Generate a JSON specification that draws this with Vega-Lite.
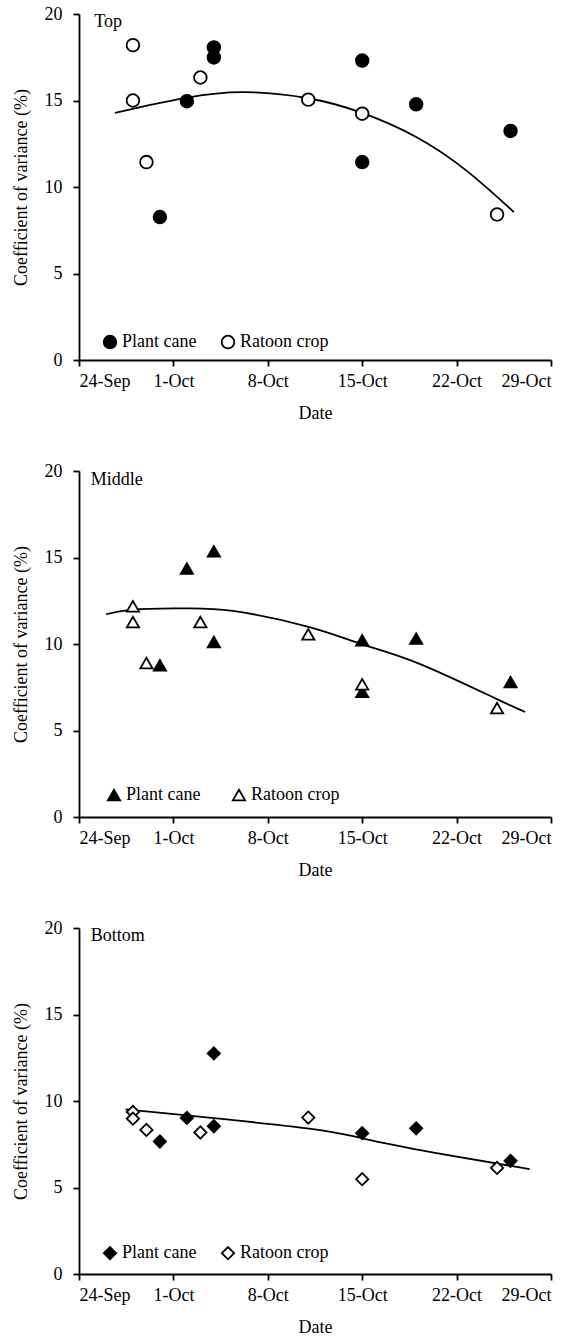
{
  "$schema": "https://vega.github.io/schema/vega-lite/v6.json",
  "padding": {"left": 12, "top": 5, "right": 5, "bottom": 5},
  "spacing": 40,
  "config": {
    "view": {"stroke": null},
    "font": "Liberation Serif",
    "axis": {
      "grid": false,
      "domainColor": "black",
      "domainWidth": 1.8,
      "tickColor": "black",
      "tickWidth": 1.8,
      "tickSize": 6,
      "labelFont": "Liberation Serif",
      "labelFontSize": 18,
      "labelColor": "black",
      "titleFont": "Liberation Serif",
      "titleFontSize": 18,
      "titleFontWeight": "normal",
      "titleColor": "black"
    },
    "axisX": {"labelPadding": 6, "titlePadding": 14},
    "axisY": {"labelPadding": 11, "titlePadding": 14},
    "legend": {
      "orient": "none",
      "direction": "horizontal",
      "title": null,
      "labelFont": "Liberation Serif",
      "labelFontSize": 18,
      "labelColor": "black",
      "labelOffset": 3,
      "padding": 0,
      "symbolStrokeColor": "black",
      "symbolStrokeWidth": 1.8,
      "symbolOpacity": 1
    },
    "text": {"font": "Liberation Serif", "fontSize": 18, "color": "black", "align": "left", "baseline": "alphabetic"}
  },
  "datasets": {
    "top_pts": [
      {"date": "2012-09-30T00:00:00", "cv": 8.26, "crop": "Plant cane"},
      {"date": "2012-10-02T00:00:00", "cv": 14.96, "crop": "Plant cane"},
      {"date": "2012-10-04T00:00:00", "cv": 18.07, "crop": "Plant cane"},
      {"date": "2012-10-04T00:00:00", "cv": 17.49, "crop": "Plant cane"},
      {"date": "2012-10-15T00:00:00", "cv": 17.31, "crop": "Plant cane"},
      {"date": "2012-10-15T00:00:00", "cv": 11.44, "crop": "Plant cane"},
      {"date": "2012-10-19T00:00:00", "cv": 14.78, "crop": "Plant cane"},
      {"date": "2012-10-26T00:00:00", "cv": 13.24, "crop": "Plant cane"},
      {"date": "2012-09-28T00:00:00", "cv": 18.2, "crop": "Ratoon crop"},
      {"date": "2012-09-28T00:00:00", "cv": 15.0, "crop": "Ratoon crop"},
      {"date": "2012-09-29T00:00:00", "cv": 11.44, "crop": "Ratoon crop"},
      {"date": "2012-10-03T00:00:00", "cv": 16.33, "crop": "Ratoon crop"},
      {"date": "2012-10-11T00:00:00", "cv": 15.05, "crop": "Ratoon crop"},
      {"date": "2012-10-15T00:00:00", "cv": 14.24, "crop": "Ratoon crop"},
      {"date": "2012-10-25T00:00:00", "cv": 8.41, "crop": "Ratoon crop"}
    ],
    "top_fit": [
      {"date": "2012-09-26T16:00:00", "cv": 14.28},
      {"date": "2012-09-29T05:00:00", "cv": 14.73},
      {"date": "2012-10-02T01:00:00", "cv": 15.17},
      {"date": "2012-10-06T02:00:00", "cv": 15.48},
      {"date": "2012-10-11T00:00:00", "cv": 15.13},
      {"date": "2012-10-15T00:00:00", "cv": 14.28},
      {"date": "2012-10-19T00:00:00", "cv": 12.89},
      {"date": "2012-10-22T17:00:00", "cv": 10.96},
      {"date": "2012-10-26T06:00:00", "cv": 8.55}
    ],
    "mid_pts": [
      {"date": "2012-09-30T00:00:00", "cv": 8.77, "crop": "Plant cane"},
      {"date": "2012-10-02T00:00:00", "cv": 14.36, "crop": "Plant cane"},
      {"date": "2012-10-04T00:00:00", "cv": 15.36, "crop": "Plant cane"},
      {"date": "2012-10-04T00:00:00", "cv": 10.12, "crop": "Plant cane"},
      {"date": "2012-10-15T00:00:00", "cv": 10.21, "crop": "Plant cane"},
      {"date": "2012-10-15T00:00:00", "cv": 7.23, "crop": "Plant cane"},
      {"date": "2012-10-19T00:00:00", "cv": 10.31, "crop": "Plant cane"},
      {"date": "2012-10-26T00:00:00", "cv": 7.8, "crop": "Plant cane"},
      {"date": "2012-09-28T00:00:00", "cv": 12.18, "crop": "Ratoon crop"},
      {"date": "2012-09-28T00:00:00", "cv": 11.27, "crop": "Ratoon crop"},
      {"date": "2012-09-29T00:00:00", "cv": 8.9, "crop": "Ratoon crop"},
      {"date": "2012-10-03T00:00:00", "cv": 11.27, "crop": "Ratoon crop"},
      {"date": "2012-10-11T00:00:00", "cv": 10.56, "crop": "Ratoon crop"},
      {"date": "2012-10-15T00:00:00", "cv": 7.67, "crop": "Ratoon crop"},
      {"date": "2012-10-25T00:00:00", "cv": 6.3, "crop": "Ratoon crop"}
    ],
    "mid_fit": [
      {"date": "2012-09-26T00:00:00", "cv": 11.72},
      {"date": "2012-09-28T00:00:00", "cv": 11.99},
      {"date": "2012-10-01T17:00:00", "cv": 12.06},
      {"date": "2012-10-05T10:00:00", "cv": 11.91},
      {"date": "2012-10-11T02:00:00", "cv": 10.98},
      {"date": "2012-10-15T00:00:00", "cv": 9.98},
      {"date": "2012-10-19T05:00:00", "cv": 8.87},
      {"date": "2012-10-24T22:00:00", "cv": 6.84},
      {"date": "2012-10-27T02:00:00", "cv": 6.07}
    ],
    "bot_pts": [
      {"date": "2012-09-30T00:00:00", "cv": 7.66, "crop": "Plant cane"},
      {"date": "2012-10-02T00:00:00", "cv": 9.02, "crop": "Plant cane"},
      {"date": "2012-10-04T00:00:00", "cv": 12.75, "crop": "Plant cane"},
      {"date": "2012-10-04T00:00:00", "cv": 8.54, "crop": "Plant cane"},
      {"date": "2012-10-15T00:00:00", "cv": 8.14, "crop": "Plant cane"},
      {"date": "2012-10-19T00:00:00", "cv": 8.42, "crop": "Plant cane"},
      {"date": "2012-10-26T00:00:00", "cv": 6.54, "crop": "Plant cane"},
      {"date": "2012-09-28T00:00:00", "cv": 9.37, "crop": "Ratoon crop"},
      {"date": "2012-09-28T00:00:00", "cv": 8.98, "crop": "Ratoon crop"},
      {"date": "2012-09-29T00:00:00", "cv": 8.33, "crop": "Ratoon crop"},
      {"date": "2012-10-03T00:00:00", "cv": 8.18, "crop": "Ratoon crop"},
      {"date": "2012-10-11T00:00:00", "cv": 9.04, "crop": "Ratoon crop"},
      {"date": "2012-10-15T00:00:00", "cv": 5.48, "crop": "Ratoon crop"},
      {"date": "2012-10-25T00:00:00", "cv": 6.13, "crop": "Ratoon crop"}
    ],
    "bot_fit": [
      {"date": "2012-09-27T11:00:00", "cv": 9.52},
      {"date": "2012-10-02T00:00:00", "cv": 9.17},
      {"date": "2012-10-10T22:00:00", "cv": 8.42},
      {"date": "2012-10-15T02:00:00", "cv": 7.83},
      {"date": "2012-10-20T07:00:00", "cv": 7.02},
      {"date": "2012-10-27T10:00:00", "cv": 6.06}
    ]
  },
  "resolve": {"scale": {"fill": "independent", "x": "independent", "y": "independent"}, "legend": {"fill": "independent"}},
  "vconcat": [
    {
      "width": 472, "height": 346,
      "layer": [
        {
          "data": {"name": "top_fit"},
          "mark": {"type": "line", "color": "black", "strokeWidth": 1.8, "interpolate": "natural"},
          "encoding": {
            "x": {"field": "date", "type": "temporal", "title": "Date", "scale": {"domain": [{"year": 2012, "month": 9, "date": 24}, {"year": 2012, "month": 10, "date": 29}]}, "axis": {"values": [{"year": 2012, "month": 9, "date": 24}, {"year": 2012, "month": 10, "date": 1}, {"year": 2012, "month": 10, "date": 8}, {"year": 2012, "month": 10, "date": 15}, {"year": 2012, "month": 10, "date": 22}, {"year": 2012, "month": 10, "date": 29}], "format": "%-d-%b"}},
            "y": {"field": "cv", "type": "quantitative", "title": "Coefficient of variance (%)", "scale": {"domain": [0, 20], "nice": false}, "axis": {"values": [0, 5, 10, 15, 20]}}
          }
        },
        {
          "data": {"name": "top_pts"},
          "mark": {"type": "point", "shape": "circle", "size": 160, "filled": true, "stroke": "black", "strokeWidth": 1.8, "opacity": 1},
          "encoding": {
            "x": {"field": "date", "type": "temporal"},
            "y": {"field": "cv", "type": "quantitative"},
            "fill": {"field": "crop", "type": "nominal", "scale": {"domain": ["Plant cane", "Ratoon crop"], "range": ["black", "white"]},
              "legend": {"legendX": 22, "legendY": 319, "symbolType": "circle", "symbolSize": 160, "columnPadding": 21}}
          }
        },
        {
          "data": {"values": [{"panel": "Top"}]},
          "mark": {"type": "text"},
          "encoding": {
            "x": {"datum": {"year": 2012, "month": 9, "date": 25, "hours": 3}},
            "y": {"datum": 19.22},
            "text": {"field": "panel"}
          }
        }
      ]
    },
    {
      "width": 472, "height": 346,
      "layer": [
        {
          "data": {"name": "mid_fit"},
          "mark": {"type": "line", "color": "black", "strokeWidth": 1.8, "interpolate": "natural"},
          "encoding": {
            "x": {"field": "date", "type": "temporal", "title": "Date", "scale": {"domain": [{"year": 2012, "month": 9, "date": 24}, {"year": 2012, "month": 10, "date": 29}]}, "axis": {"values": [{"year": 2012, "month": 9, "date": 24}, {"year": 2012, "month": 10, "date": 1}, {"year": 2012, "month": 10, "date": 8}, {"year": 2012, "month": 10, "date": 15}, {"year": 2012, "month": 10, "date": 22}, {"year": 2012, "month": 10, "date": 29}], "format": "%-d-%b"}},
            "y": {"field": "cv", "type": "quantitative", "title": "Coefficient of variance (%)", "scale": {"domain": [0, 20], "nice": false}, "axis": {"values": [0, 5, 10, 15, 20]}}
          }
        },
        {
          "data": {"name": "mid_pts"},
          "mark": {"type": "point", "shape": "triangle-up", "size": 150, "filled": true, "stroke": "black", "strokeWidth": 1.8, "opacity": 1},
          "encoding": {
            "x": {"field": "date", "type": "temporal"},
            "y": {"field": "cv", "type": "quantitative"},
            "fill": {"field": "crop", "type": "nominal", "scale": {"domain": ["Plant cane", "Ratoon crop"], "range": ["black", "white"]},
              "legend": {"legendX": 26, "legendY": 315, "symbolType": "triangle-up", "symbolSize": 150, "columnPadding": 28}}
          }
        },
        {
          "data": {"values": [{"panel": "Middle"}]},
          "mark": {"type": "text"},
          "encoding": {
            "x": {"datum": {"year": 2012, "month": 9, "date": 24, "hours": 21}},
            "y": {"datum": 19.2},
            "text": {"field": "panel"}
          }
        }
      ]
    },
    {
      "width": 472, "height": 346,
      "layer": [
        {
          "data": {"name": "bot_fit"},
          "mark": {"type": "line", "color": "black", "strokeWidth": 1.8, "interpolate": "natural"},
          "encoding": {
            "x": {"field": "date", "type": "temporal", "title": "Date", "scale": {"domain": [{"year": 2012, "month": 9, "date": 24}, {"year": 2012, "month": 10, "date": 29}]}, "axis": {"values": [{"year": 2012, "month": 9, "date": 24}, {"year": 2012, "month": 10, "date": 1}, {"year": 2012, "month": 10, "date": 8}, {"year": 2012, "month": 10, "date": 15}, {"year": 2012, "month": 10, "date": 22}, {"year": 2012, "month": 10, "date": 29}], "format": "%-d-%b"}},
            "y": {"field": "cv", "type": "quantitative", "title": "Coefficient of variance (%)", "scale": {"domain": [0, 20], "nice": false}, "axis": {"values": [0, 5, 10, 15, 20]}}
          }
        },
        {
          "data": {"name": "bot_pts"},
          "mark": {"type": "point", "shape": "diamond", "size": 150, "filled": true, "stroke": "black", "strokeWidth": 1.8, "opacity": 1},
          "encoding": {
            "x": {"field": "date", "type": "temporal"},
            "y": {"field": "cv", "type": "quantitative"},
            "fill": {"field": "crop", "type": "nominal", "scale": {"domain": ["Plant cane", "Ratoon crop"], "range": ["black", "white"]},
              "legend": {"legendX": 22, "legendY": 316, "symbolType": "diamond", "symbolSize": 150, "columnPadding": 21}}
          }
        },
        {
          "data": {"values": [{"panel": "Bottom"}]},
          "mark": {"type": "text"},
          "encoding": {
            "x": {"datum": {"year": 2012, "month": 9, "date": 24, "hours": 21}},
            "y": {"datum": 19.25},
            "text": {"field": "panel"}
          }
        }
      ]
    }
  ]
}
